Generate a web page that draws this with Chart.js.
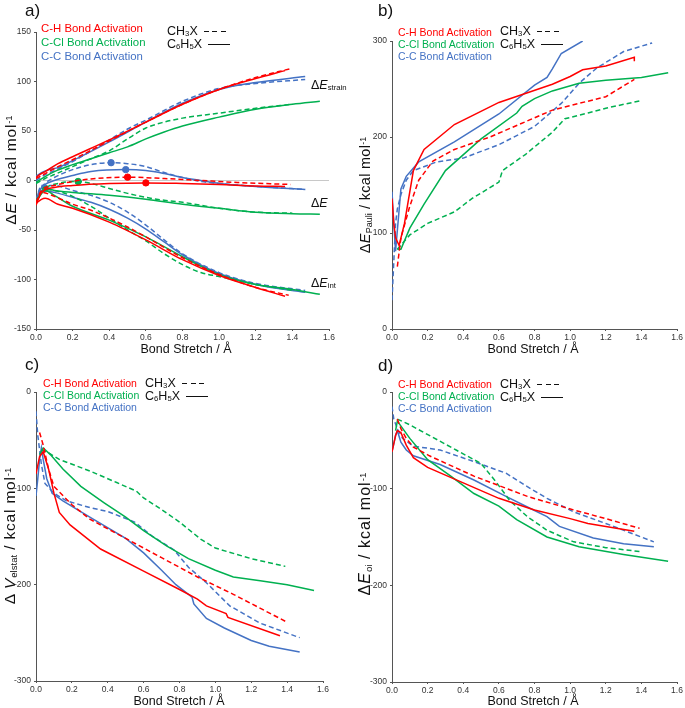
<!DOCTYPE html>
<html>
<head>
<meta charset="utf-8">
<script src="https://cdn.jsdelivr.net/npm/chart.js@4.4.0/dist/chart.umd.min.js"></script>
<style>
  body { margin: 0; background: #fff; font-family: "Liberation Sans", Arial, sans-serif; }
  #wrap { position: relative; width: 685px; height: 708px; overflow: hidden; }
  canvas { position: absolute; }
  .lbl { position: absolute; font-size: 17px; color: #111; }
  .leg { position: absolute; font-size: 10.5px; line-height: 12px; white-space: nowrap; }
  .leg.big { font-size: 11.4px; line-height: 14px; }
  .leg2 { position: absolute; font-size: 12.5px; line-height: 13px; white-space: nowrap; color: #111; }
  .leg2 .s { display: inline-block; width: 22px; height: 1.5px; vertical-align: middle; margin-left: 6px; background: #111; }
  .leg2 .d { display: inline-block; width: 22px; height: 1.5px; vertical-align: middle; margin-left: 6px;
             background: repeating-linear-gradient(to right, #111 0 5px, transparent 5px 8.5px); }
  sub { font-size: 0.62em; vertical-align: -0.18em; line-height: 0; }
  sup { font-size: 0.62em; vertical-align: 0.45em; line-height: 0; }
  .ytitle { position: absolute; font-size: 13px; white-space: nowrap; color: #111;
            transform: translate(-50%, -50%) rotate(-90deg); }
  .ytitle sub, .ytitle sup { letter-spacing: 0; }
  .xtitle { position: absolute; font-size: 12.5px; white-space: nowrap; color: #111; transform: translate(-50%, -50%); }
  .ann { position: absolute; font-size: 12.5px; white-space: nowrap; color: #111; transform: translateY(-50%); }
</style>
</head>
<body>
<div id="wrap">
  <canvas id="chartA" width="340" height="345" style="left:0;top:0"></canvas>
  <canvas id="chartB" width="345" height="345" style="left:340px;top:0"></canvas>
  <canvas id="chartC" width="340" height="358" style="left:0;top:350px"></canvas>
  <canvas id="chartD" width="345" height="358" style="left:340px;top:350px"></canvas>

  <div class="lbl" style="left:25px;top:1px">a)</div>
  <div class="lbl" style="left:378px;top:1px">b)</div>
  <div class="lbl" style="left:25px;top:355px">c)</div>
  <div class="lbl" style="left:378px;top:356px">d)</div>

  <div class="leg big" style="left:41px;top:21px">
    <div style="color:#ff0000">C-H Bond Activation</div>
    <div style="color:#00b050">C-Cl Bond Activation</div>
    <div style="color:#4472c4">C-C Bond Activation</div>
  </div>
  <div class="leg2" style="left:167px;top:25px">
    <div>CH<sub>3</sub>X<span class="d"></span></div>
    <div>C<sub>6</sub>H<sub>5</sub>X<span class="s"></span></div>
  </div>

  <div class="leg" style="left:398px;top:26px">
    <div style="color:#ff0000">C-H Bond Activation</div>
    <div style="color:#00b050">C-Cl Bond Activation</div>
    <div style="color:#4472c4">C-C Bond Activation</div>
  </div>
  <div class="leg2" style="left:500px;top:25px">
    <div>CH<sub>3</sub>X<span class="d"></span></div>
    <div>C<sub>6</sub>H<sub>5</sub>X<span class="s"></span></div>
  </div>

  <div class="leg" style="left:43px;top:377px">
    <div style="color:#ff0000">C-H Bond Activation</div>
    <div style="color:#00b050">C-Cl Bond Activation</div>
    <div style="color:#4472c4">C-C Bond Activation</div>
  </div>
  <div class="leg2" style="left:145px;top:377px">
    <div>CH<sub>3</sub>X<span class="d"></span></div>
    <div>C<sub>6</sub>H<sub>5</sub>X<span class="s"></span></div>
  </div>

  <div class="leg" style="left:398px;top:378px">
    <div style="color:#ff0000">C-H Bond Activation</div>
    <div style="color:#00b050">C-Cl Bond Activation</div>
    <div style="color:#4472c4">C-C Bond Activation</div>
  </div>
  <div class="leg2" style="left:500px;top:378px">
    <div>CH<sub>3</sub>X<span class="d"></span></div>
    <div>C<sub>6</sub>H<sub>5</sub>X<span class="s"></span></div>
  </div>

  <div class="ytitle" style="left:11px;top:170px;font-size:15.5px;letter-spacing:0.8px">&Delta;<i>E</i> / kcal mol<sup>-1</sup></div>
  <div class="ytitle" style="left:365px;top:195px;font-size:14.5px;letter-spacing:0.3px">&Delta;<i>E</i><sub>Pauli</sub> / kcal mol<sup>-1</sup></div>
  <div class="ytitle" style="left:10px;top:536px;font-size:15.5px;letter-spacing:0.8px">&Delta; <i>V</i><sub>elstat</sub> / kcal mol<sup>-1</sup></div>
  <div class="ytitle" style="left:365px;top:534px;font-size:16px;letter-spacing:1px">&Delta;<i>E</i><sub>oi</sub> / kcal mol<sup>-1</sup></div>

  <div class="xtitle" style="left:186px;top:349px">Bond Stretch / &Aring;</div>
  <div class="xtitle" style="left:533px;top:349px">Bond Stretch / &Aring;</div>
  <div class="xtitle" style="left:179px;top:701px">Bond Stretch / &Aring;</div>
  <div class="xtitle" style="left:533px;top:701px">Bond Stretch / &Aring;</div>

  <div class="ann" style="left:311px;top:85px">&Delta;<i>E</i><sub>strain</sub></div>
  <div class="ann" style="left:311px;top:203px">&Delta;<i>E</i></div>
  <div class="ann" style="left:311px;top:283px">&Delta;<i>E</i><sub>int</sub></div>
</div>

<script>
// colours of the three activations
const RED = "#ff0000";
const GREEN = "#00b050";
const BLUE = "#4472c4";

const xTicks = [0, 0.2, 0.4, 0.6, 0.8, 1.0, 1.2, 1.4, 1.6];

// ---- panel a: strain / total / interaction energy (ph = C6H5X solid, me = CH3X dashed)
const aStrainCH_ph = [[0,3],[0.02,6],[0.05,9],[0.12,17],[0.2,24],[0.4,41],[0.6,59],[0.8,77],[1.0,92],[1.2,103],[1.36,111]];
const aStrainCH_me = [[0,2],[0.05,7],[0.12,14],[0.2,21],[0.4,40],[0.6,59],[0.8,77],[1.0,92],[1.2,104],[1.39,113]];
const aStrainCCl_ph = [[0,-2],[0.05,4],[0.1,9],[0.2,16],[0.3,22],[0.4,28],[0.5,34],[0.6,42],[0.7,49],[0.8,55],[1.0,64],[1.2,72],[1.4,77],[1.55,80]];
const aStrainCCl_me = [[0,-3],[0.05,2],[0.1,6],[0.2,14],[0.3,22],[0.4,30],[0.5,42],[0.6,53],[0.7,59],[0.8,63],[1.0,68],[1.2,73],[1.4,77]];
const aStrainCC_ph = [[0,4],[0.03,8],[0.07,11],[0.12,13],[0.2,20],[0.4,39],[0.6,59],[0.8,78],[1.0,92],[1.2,99],[1.47,105]];
const aStrainCC_me = [[0,0],[0.05,6],[0.1,10],[0.2,19],[0.4,41],[0.5,52],[0.6,61],[0.8,80],[1.0,93],[1.2,98],[1.47,102]];

const aTotCH_ph = [[0,-24],[0.03,-12],[0.1,-7],[0.2,-5],[0.4,-3],[0.6,-2.4],[0.8,-3],[1.0,-4],[1.2,-5.5],[1.36,-6]];
const aTotCH_me = [[0,-22],[0.03,-10],[0.1,-5],[0.2,-1],[0.3,1.5],[0.5,3.4],[0.7,2],[0.9,0],[1.1,-2],[1.39,-4]];
const aTotCCl_ph = [[0,-22],[0.05,-8],[0.1,-10],[0.2,-12],[0.4,-15],[0.6,-19],[0.8,-24],[1.0,-28],[1.2,-32],[1.4,-33.5],[1.55,-34]];
const aTotCCl_me = [[0,-20],[0.05,-8],[0.12,-3],[0.23,-1],[0.3,-3],[0.4,-8],[0.5,-13],[0.6,-17],[0.7,-20],[0.8,-22],[1.0,-28],[1.2,-32],[1.4,-33]];
const aTotCC_ph = [[0,-20],[0.02,-10],[0.05,-4],[0.1,0],[0.2,5],[0.3,9],[0.49,11],[0.6,10],[0.7,7],[0.8,3],[0.9,0],[1.0,-3],[1.2,-6],[1.47,-9]];
const aTotCC_me = [[0,-22],[0.02,-10],[0.05,-3],[0.1,3],[0.2,11],[0.3,16],[0.41,18],[0.5,17],[0.6,14],[0.7,8],[0.8,3],[0.9,-1],[1.0,-3],[1.2,-6],[1.47,-9]];

const aIntCH_ph = [[0,-23],[0.03,-19],[0.05,-18],[0.12,-24],[0.2,-28],[0.4,-42],[0.6,-60],[0.8,-80],[1.0,-96],[1.2,-108],[1.36,-117]];
const aIntCH_me = [[0,-25],[0.03,-12],[0.1,-16],[0.2,-24],[0.3,-30],[0.4,-38],[0.5,-47],[0.6,-57],[0.8,-78],[1.0,-95],[1.2,-108],[1.38,-116]];
const aIntCCl_ph = [[0,-22],[0.05,-10],[0.1,-15],[0.2,-26],[0.4,-40],[0.6,-57],[0.8,-77],[1.0,-95],[1.2,-105],[1.4,-110],[1.55,-115]];
const aIntCCl_me = [[0,-20],[0.05,-9],[0.1,-10],[0.2,-16],[0.3,-26],[0.4,-38],[0.5,-50],[0.6,-61],[0.7,-74],[0.8,-85],[0.9,-93],[1.0,-97],[1.2,-105],[1.4,-111]];
const aIntCC_ph = [[0,-22],[0.03,-10],[0.1,-12],[0.2,-17],[0.3,-22],[0.4,-29],[0.5,-38],[0.6,-49],[0.7,-62],[0.8,-75],[1.0,-94],[1.2,-105],[1.47,-113]];
const aIntCC_me = [[0,-20],[0.03,-5],[0.1,-5],[0.2,-10],[0.3,-15],[0.4,-22],[0.5,-32],[0.6,-45],[0.7,-60],[0.8,-74],[1.0,-93],[1.2,-104],[1.47,-111]];

// transition states marked on the ΔE curves
const tsCH = [[0.5,3.4],[0.6,-2.4]];
const tsCCl = [[0.05,-8],[0.23,-1]];
const tsCC = [[0.41,18],[0.49,11]];

// ---- panel b: Pauli repulsion
const bPauliCH_ph = [[0,136],[0.01,110],[0.02,95],[0.04,87],[0.07,110],[0.12,165],[0.18,187],[0.35,213],[0.6,236],[0.9,255],[1.0,263],[1.07,270],[1.2,274],[1.36,283],[1.36,279]];
const bPauliCH_me = [[0.03,65],[0.05,95],[0.1,128],[0.15,155],[0.23,175],[0.35,187],[0.55,200],[0.9,228],[1.2,242],[1.36,260]];
const bPauliCCl_ph = [[0.03,83],[0.05,83],[0.1,105],[0.18,130],[0.3,165],[0.5,198],[0.7,225],[0.73,232],[0.8,240],[0.9,248],[1.05,256],[1.2,259],[1.4,262],[1.55,267]];
const bPauliCCl_me = [[0.03,83],[0.1,98],[0.2,110],[0.35,122],[0.45,136],[0.6,153],[0.62,165],[0.75,182],[0.9,205],[0.97,219],[1.1,225],[1.2,230],[1.4,238]];
const bPauliCC_ph = [[0,143],[0.01,110],[0.02,81],[0.05,146],[0.08,159],[0.15,174],[0.35,195],[0.6,224],[0.8,254],[0.87,262],[0.9,271],[0.95,287],[1.07,300]];
const bPauliCC_me = [[0,30],[0.01,70],[0.02,110],[0.03,125],[0.05,140],[0.08,155],[0.12,165],[0.25,174],[0.4,178],[0.6,192],[0.8,211],[0.95,235],[1.05,256],[1.15,272],[1.3,289],[1.46,298]];

// ---- panel c: electrostatic interaction
const cElstatCH_ph = [[0,-85],[0.02,-67],[0.04,-62],[0.07,-80],[0.1,-105],[0.13,-125],[0.19,-138],[0.36,-163],[0.6,-186],[0.8,-205],[0.9,-215],[0.95,-222],[1.06,-230],[1.07,-234],[1.36,-253]];
const cElstatCH_me = [[0.02,-42],[0.04,-55],[0.07,-80],[0.1,-98],[0.2,-117],[0.3,-132],[0.5,-152],[0.7,-172],[0.9,-192],[1.1,-210],[1.39,-238]];
const cElstatCCl_ph = [[0.02,-65],[0.04,-58],[0.08,-65],[0.15,-80],[0.25,-98],[0.38,-115],[0.5,-130],[0.6,-144],[0.73,-160],[0.85,-173],[1.0,-185],[1.1,-192],[1.25,-196],[1.4,-200],[1.55,-206]];
const cElstatCCl_me = [[0.03,-60],[0.06,-62],[0.13,-70],[0.3,-82],[0.45,-94],[0.56,-103],[0.6,-110],[0.7,-122],[0.8,-135],[0.92,-153],[1.0,-162],[1.2,-173],[1.39,-181]];
const cElstatCC_ph = [[0,-108],[0.01,-90],[0.02,-70],[0.03,-58],[0.04,-70],[0.06,-90],[0.09,-105],[0.15,-113],[0.3,-130],[0.5,-152],[0.6,-167],[0.7,-185],[0.78,-200],[0.87,-213],[0.88,-220],[0.95,-235],[1.05,-245],[1.2,-258],[1.3,-264],[1.47,-270]];
const cElstatCC_me = [[0,-20],[0.01,-45],[0.02,-60],[0.03,-75],[0.05,-95],[0.1,-105],[0.17,-113],[0.3,-120],[0.4,-124],[0.55,-135],[0.65,-150],[0.77,-164],[0.85,-182],[0.95,-198],[1.08,-222],[1.25,-240],[1.47,-255]];

// ---- panel d: orbital interaction
const dOiCH_ph = [[0,-62],[0.02,-45],[0.03,-40],[0.05,-42],[0.08,-55],[0.12,-68],[0.2,-78],[0.4,-94],[0.6,-110],[0.8,-122],[1.0,-131],[1.1,-136],[1.36,-144]];
const dOiCH_me = [[0.03,-28],[0.05,-38],[0.08,-48],[0.12,-57],[0.21,-66],[0.46,-87],[0.76,-108],[1.02,-122],[1.2,-131],[1.39,-141]];
const dOiCCl_ph = [[0.02,-40],[0.03,-30],[0.1,-48],[0.2,-70],[0.33,-87],[0.46,-105],[0.6,-118],[0.7,-132],[0.87,-150],[1.05,-160],[1.3,-168],[1.55,-175]];
const dOiCCl_me = [[0.03,-28],[0.1,-34],[0.18,-42],[0.36,-60],[0.5,-74],[0.58,-92],[0.66,-112],[0.76,-129],[0.87,-143],[1.02,-155],[1.2,-161],[1.39,-165]];
const dOiCC_ph = [[0,-62],[0.02,-45],[0.03,-40],[0.05,-52],[0.08,-60],[0.12,-66],[0.27,-75],[0.46,-91],[0.64,-108],[0.76,-119],[0.87,-129],[0.94,-139],[1.13,-151],[1.3,-157],[1.47,-160]];
const dOiCC_me = [[0,-15],[0.01,-28],[0.03,-38],[0.06,-48],[0.12,-56],[0.27,-60],[0.46,-72],[0.64,-84],[0.76,-98],[0.87,-110],[1.02,-124],[1.2,-136],[1.47,-155]];

function pts(arr) {
    return arr.map((p) => ({ x: p[0], y: p[1] }));
}

function line(arr, color, dashed, smooth) {
    return {
        data: pts(arr),
        showLine: true,
        borderColor: color,
        borderWidth: 1.5,
        borderDash: dashed ? [5, 3] : [],
        pointRadius: 0,
        fill: false,
        cubicInterpolationMode: smooth ? "monotone" : "default",
        tension: 0,
    };
}

function dots(arr, color) {
    return {
        data: pts(arr),
        showLine: false,
        pointRadius: 3.2,
        pointBackgroundColor: color,
        pointBorderColor: color,
    };
}

// box: yw = y axis width, xh = x axis height, top/right = layout padding
function makeChart(id, datasets, yMin, yMax, yStep, box, zeroLine) {
    return new Chart(document.getElementById(id), {
        type: "scatter",
        data: { datasets: datasets },
        options: {
            responsive: false,
            animation: false,
            devicePixelRatio: 1,
            layout: { padding: { top: box.top, right: box.right, left: 0, bottom: 0 } },
            plugins: { legend: { display: false }, tooltip: { enabled: false } },
            scales: {
                x: {
                    type: "linear",
                    min: 0,
                    max: 1.6,
                    afterBuildTicks: (axis) => {
                        axis.ticks = xTicks.map((v) => ({ value: v }));
                    },
                    afterFit: (axis) => { axis.height = box.xh; },
                    border: { display: true, color: "#555", width: 1 },
                    grid: { drawOnChartArea: false, drawTicks: true, tickLength: 2, tickColor: "#555" },
                    ticks: {
                        padding: 2,
                        color: "#333",
                        font: { family: "Liberation Sans", size: 8.5 },
                        maxRotation: 0,
                        callback: (v) => Number(v).toFixed(1),
                    },
                },
                y: {
                    min: yMin,
                    max: yMax,
                    afterFit: (axis) => { axis.width = box.yw; },
                    border: { display: true, color: "#555", width: 1 },
                    grid: {
                        drawOnChartArea: !!zeroLine,
                        drawTicks: true,
                        tickLength: 2,
                        tickColor: "#555",
                        color: (ctx) => (ctx.tick && ctx.tick.value === 0 ? "#c8c8c8" : "rgba(0,0,0,0)"),
                    },
                    ticks: {
                        stepSize: yStep,
                        padding: 3,
                        color: "#333",
                        font: { family: "Liberation Sans", size: 8.5 },
                        callback: (v) => String(v),
                    },
                },
            },
        },
    });
}

makeChart("chartA", [
    line(aStrainCH_ph, RED, false, true), line(aStrainCH_me, RED, true, true),
    line(aStrainCCl_ph, GREEN, false, true), line(aStrainCCl_me, GREEN, true, true),
    line(aStrainCC_ph, BLUE, false, true), line(aStrainCC_me, BLUE, true, true),
    line(aTotCH_ph, RED, false, true), line(aTotCH_me, RED, true, true),
    line(aTotCCl_ph, GREEN, false, true), line(aTotCCl_me, GREEN, true, true),
    line(aTotCC_ph, BLUE, false, true), line(aTotCC_me, BLUE, true, true),
    line(aIntCH_ph, RED, false, true), line(aIntCH_me, RED, true, true),
    line(aIntCCl_ph, GREEN, false, true), line(aIntCCl_me, GREEN, true, true),
    line(aIntCC_ph, BLUE, false, true), line(aIntCC_me, BLUE, true, true),
    dots(tsCH, RED), dots(tsCCl, GREEN), dots(tsCC, BLUE),
], -150, 150, 50, { yw: 36, xh: 16, top: 32, right: 11 }, true);

makeChart("chartB", [
    line(bPauliCH_ph, RED, false), line(bPauliCH_me, RED, true),
    line(bPauliCCl_ph, GREEN, false), line(bPauliCCl_me, GREEN, true),
    line(bPauliCC_ph, BLUE, false), line(bPauliCC_me, BLUE, true),
], 0, 300, 100, { yw: 52, xh: 16, top: 41, right: 7 });

makeChart("chartC", [
    line(cElstatCH_ph, RED, false), line(cElstatCH_me, RED, true),
    line(cElstatCCl_ph, GREEN, false), line(cElstatCCl_me, GREEN, true),
    line(cElstatCC_ph, BLUE, false), line(cElstatCC_me, BLUE, true),
], -300, 0, 100, { yw: 36, xh: 27, top: 42, right: 17 });

makeChart("chartD", [
    line(dOiCH_ph, RED, false), line(dOiCH_me, RED, true),
    line(dOiCCl_ph, GREEN, false), line(dOiCCl_me, GREEN, true),
    line(dOiCC_ph, BLUE, false), line(dOiCC_me, BLUE, true),
], -300, 0, 100, { yw: 52, xh: 26, top: 42, right: 8 });
</script>
</body>
</html>
